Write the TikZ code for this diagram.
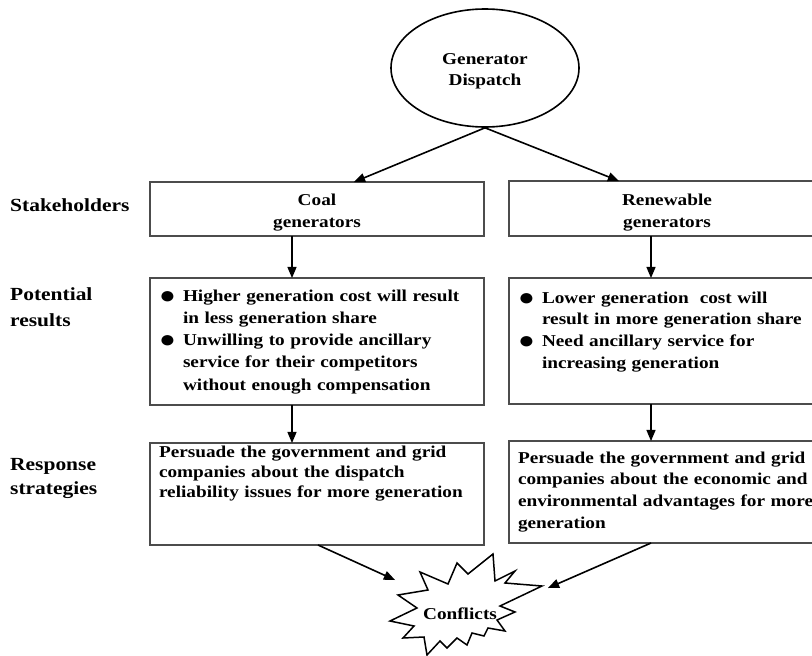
\documentclass[tikz,border=0pt]{standalone}
\usepackage{fontspec}
\setmainfont{Liberation Serif}[FakeStretch=1.16]
\usetikzlibrary{arrows,shapes.geometric}

\newcommand{\boxsize}[1]{\fontsize{16.6}{#1}\selectfont\bfseries}
\newcommand{\bitem}[1]{\hangindent=24pt\hangafter=1\noindent\makebox[24pt][l]{\raisebox{-2pt}{\fontsize{24}{24}\selectfont●}}#1\par}

\begin{document}
\begin{tikzpicture}[x=1pt,y=-1pt]
\tikzstyle{stage} = [draw=black!70, line width=1.2pt, rectangle, anchor=north west, inner xsep=9pt, inner ysep=0pt, outer sep=0pt, text width=316pt, align=left]
\tikzstyle{side} = [anchor=base west, inner sep=0pt, text width=140pt, align=left]
\tikzstyle{link} = [-triangle 45, line width=1.6pt]

\clip (0,0) rectangle (812,656);

\node[ellipse, draw, line width=1.6pt, minimum width=188pt, minimum height=118pt, inner sep=0pt, text width=90pt, align=center, text height=12pt, text depth=20pt, font=\boxsize{21}] (disp) at (485,68) {Generator\\Dispatch};

\node[side, font=\fontsize{18.5}{26.7}\selectfont\bfseries] (lstake) at (10,211.7) {Stakeholders};
\node[side, font=\fontsize{18.5}{26.7}\selectfont\bfseries] (lres) at (10,300) {Potential\\results};
\node[side, font=\fontsize{18.5}{24.5}\selectfont\bfseries] (lstrat) at (10,470) {Response\\strategies};

\node[stage, align=center, text height=23pt, text depth=31pt, font=\boxsize{22.5}] (coal) at (150,182) {Coal\\generators};
\node[stage, align=center, text height=24pt, text depth=31pt, text width=298pt, font=\boxsize{22}] (ren) at (509,181) {Renewable\\generators};

\node[stage, text height=23pt, text depth=104pt, font=\boxsize{22.3}] (res1) at (150,278) {\bitem{Higher generation cost will result\newline in less generation share}\bitem{Unwilling to provide ancillary\newline service for their competitors\newline without enough compensation}};
\node[stage, text height=25pt, text depth=101pt, text width=298pt, font=\boxsize{21.7}] (res2) at (509,278) {\bitem{Lower generation\ \ cost will\newline result in more generation share}\bitem{Need ancillary service for\newline increasing generation}};

\node[stage, text height=14pt, text depth=88pt, font=\boxsize{20}] (str1) at (150,443) {Persuade the government and grid\\companies about the dispatch\\reliability issues for more generation};
\node[stage, text height=22pt, text depth=80pt, text width=298pt, font=\boxsize{21.7}] (str2) at (509,441) {Persuade the government and grid\\companies about the economic and\\environmental advantages for more\\generation};

\draw[line width=1.5pt, line join=miter] (420,572) -- (428,590) -- (398,595) -- (417,608) -- (390,621) -- (414,626) -- (403,638) -- (424,637) -- (427,655) -- (440,641) -- (447,648) -- (457,638) -- (467,645) -- (472,633) -- (484,636) -- (488,628) -- (505,631) -- (497,620) -- (515,612) -- (500,606) -- (542,586) -- (505,583) -- (515,571) -- (495,581) -- (493,554) -- (468,574) -- (457,563) -- (448,584) -- cycle;
\node[inner sep=0pt, font=\boxsize{20}] (conf) at (460,614) {Conflicts};

\draw[link] (disp.south) -- ([xshift=204pt]coal.north west);
\draw[link] (disp.south) -- ([xshift=110pt]ren.north west);
\foreach \a/\b in {coal/res1, res1/str1, ren/res2, res2/str2}
\draw[link] ([xshift=142pt]\a.south west) -- ([xshift=142pt]\b.north west);
\draw[link] ([xshift=168pt]str1.south west) -- ([xshift=-65pt,yshift=34pt]conf.center);
\draw[link] ([xshift=142pt]str2.south west) -- ([xshift=88pt,yshift=26pt]conf.center);

\end{tikzpicture}
\end{document}
